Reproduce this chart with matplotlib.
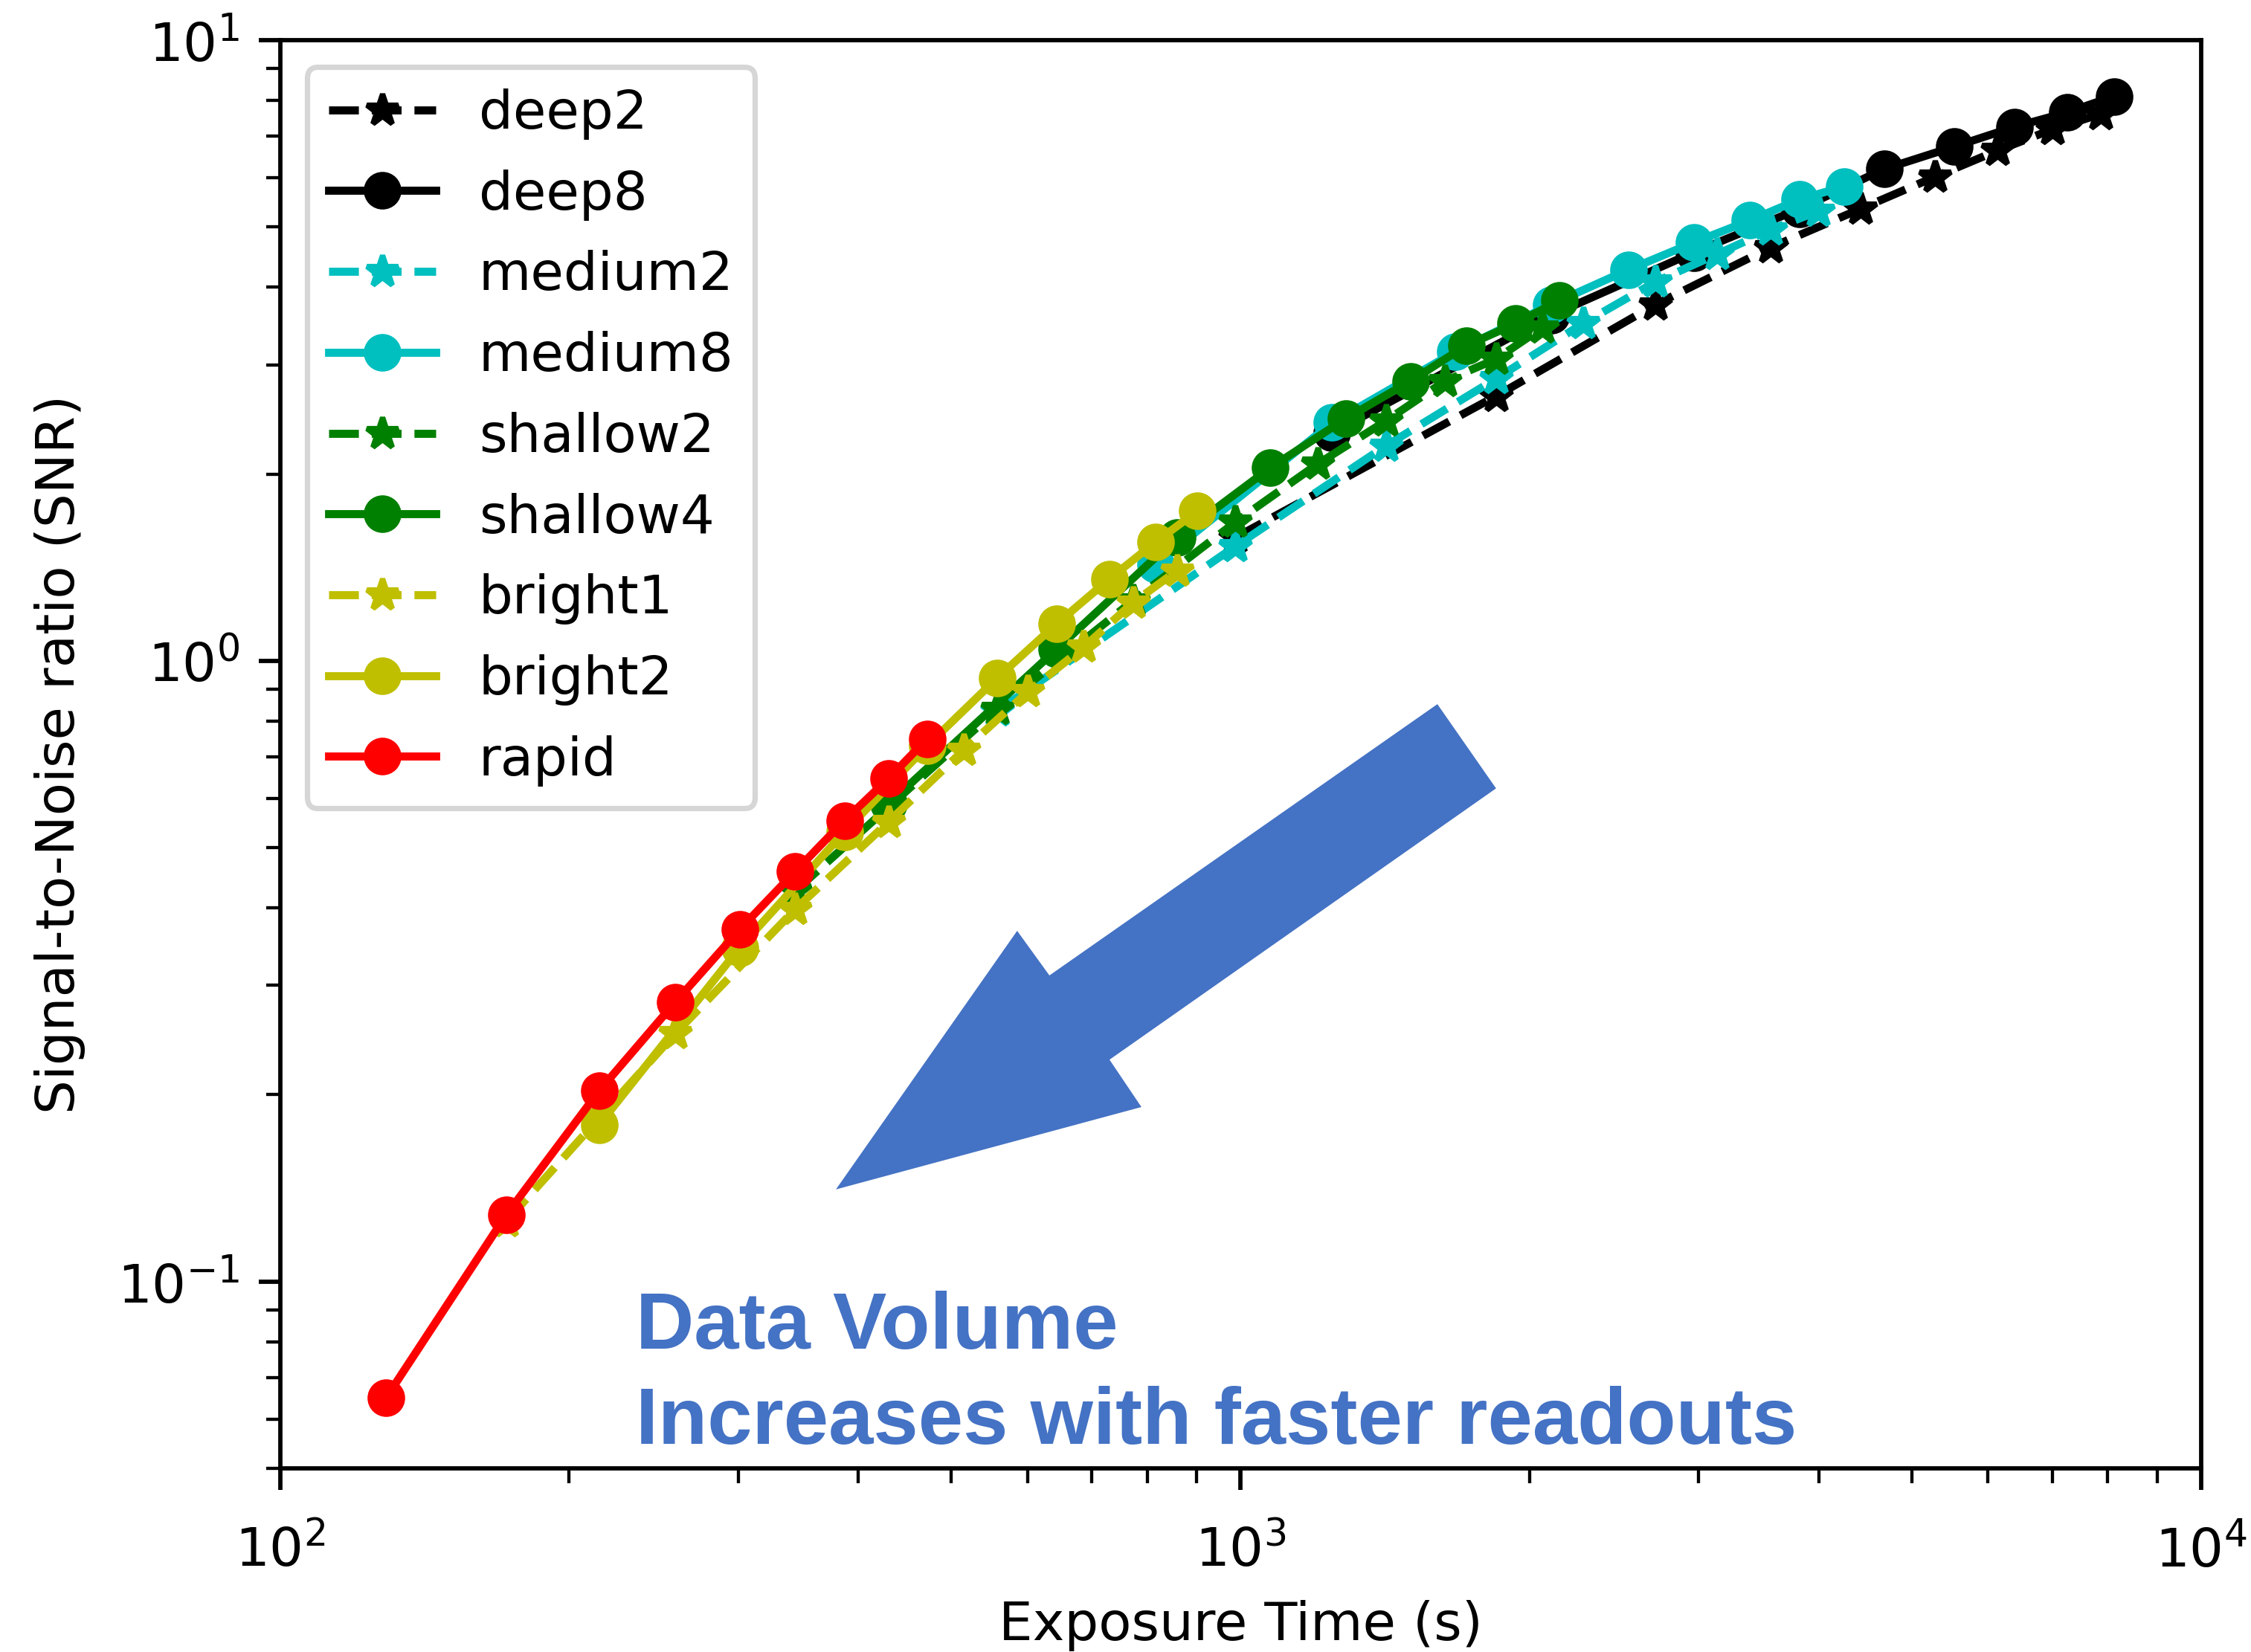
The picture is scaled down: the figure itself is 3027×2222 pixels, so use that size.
import matplotlib
matplotlib.use('Agg')
import matplotlib.pyplot as plt
from matplotlib.patches import Polygon

# exposure times (s) and SNR for each readout pattern
rapid_t = [129, 172, 215, 258, 301, 344, 387, 430, 472]
rapid_snr = [0.065, 0.128, 0.203, 0.282, 0.369, 0.458, 0.553, 0.646, 0.749]

bright1_t = [172, 258, 344, 430, 515, 601, 687, 773, 859]
bright1_snr = [0.125, 0.251, 0.398, 0.550, 0.718, 0.892, 1.052, 1.241, 1.397]

bright2_t = [215, 301, 387, 472, 558, 644, 730, 816, 902]
bright2_snr = [0.179, 0.345, 0.53, 0.73, 0.938, 1.148, 1.354, 1.554, 1.743]

shallow2_t = [344, 558, 773, 988, 1203, 1417, 1632, 1847, 2062]
shallow2_snr = [0.426, 0.835, 1.25, 1.673, 2.075, 2.435, 2.822, 3.065, 3.44]

shallow4_t = [430, 644, 859, 1074, 1289, 1503, 1718, 1933, 2148]
shallow4_snr = [0.588, 1.045, 1.58, 2.046, 2.459, 2.822, 3.22, 3.492, 3.807]

medium2_t = [558, 988, 1417, 1847, 2276, 2706, 3135, 3565, 3994]
medium2_snr = [0.83, 1.53, 2.22, 2.85, 3.50, 4.08, 4.52, 4.95, 5.30]

medium8_t = [816, 1246, 1675, 2105, 2534, 2964, 3393, 3823, 4252]
medium8_snr = [1.43, 2.42, 3.15, 3.75, 4.266, 4.72, 5.125, 5.54, 5.81]

deep2_t = [988, 1847, 2706, 3565, 4424, 5283, 6142, 7001, 7860]
deep2_snr = [1.58, 2.672, 3.751, 4.634, 5.35, 6.02, 6.64, 7.18, 7.6]

deep8_t = [1246, 2105, 2964, 3823, 4682, 5541, 6400, 7259, 8118]
deep8_snr = [2.33, 3.6, 4.55, 5.35, 6.2, 6.74, 7.25, 7.65, 8.12]

W, H = 3027, 2222
dpi = 520
fig = plt.figure(figsize=(W / dpi, H / dpi), dpi=dpi)
ax = fig.add_axes([376.5 / W, 1 - 1975 / H, (2959.6 - 376.5) / W, (1975 - 54) / H])

ax.loglog(deep2_t, deep2_snr, 'k*--', label='deep2')
ax.loglog(deep8_t, deep8_snr, 'ko-', label='deep8')
ax.loglog(medium2_t, medium2_snr, 'c*--', label='medium2')
ax.loglog(medium8_t, medium8_snr, 'co-', label='medium8')
ax.loglog(shallow2_t, shallow2_snr, 'g*--', label='shallow2')
ax.loglog(shallow4_t, shallow4_snr, 'go-', label='shallow4')
ax.loglog(bright1_t, bright1_snr, 'y*--', label='bright1')
ax.loglog(bright2_t, bright2_snr, 'yo-', label='bright2')
ax.loglog(rapid_t, rapid_snr, 'ro-', label='rapid')

ax.set_xlim(100, 10000)
ax.set_ylim(0.05, 10)
ax.tick_params(which='major', length=4)
ax.tick_params(which='minor', length=2.7)
ax.tick_params(axis='x', which='both', pad=6.5)
ax.set_xlabel('Exposure Time (s)')
ax.set_ylabel('Signal-to-Noise ratio (SNR)', labelpad=6)
ax.legend(loc='upper left', labelspacing=0.55)

# big block arrow (figure pixel coords, y down)
blue = '#4472C4'
arrow_px = [(1932.9, 947.1), (2011.8, 1060.4), (1492.0, 1425.3), (1534.9, 1489.0),
            (1124.1, 1599.8), (1367.8, 1252.0), (1411.2, 1312.0)]
arrow = Polygon([(x / W, 1 - y / H) for x, y in arrow_px], closed=True,
                facecolor=blue, edgecolor='none', transform=fig.transFigure, zorder=5)
fig.patches.append(arrow)

fig.text(855 / W, 1 - 1942 / H, 'Data Volume\nIncreases with faster readouts',
         color=blue, fontsize=15, fontweight='bold', family='Liberation Sans',
         va='baseline', ha='left', linespacing=1.355)

plt.savefig('out.png', dpi=dpi)
